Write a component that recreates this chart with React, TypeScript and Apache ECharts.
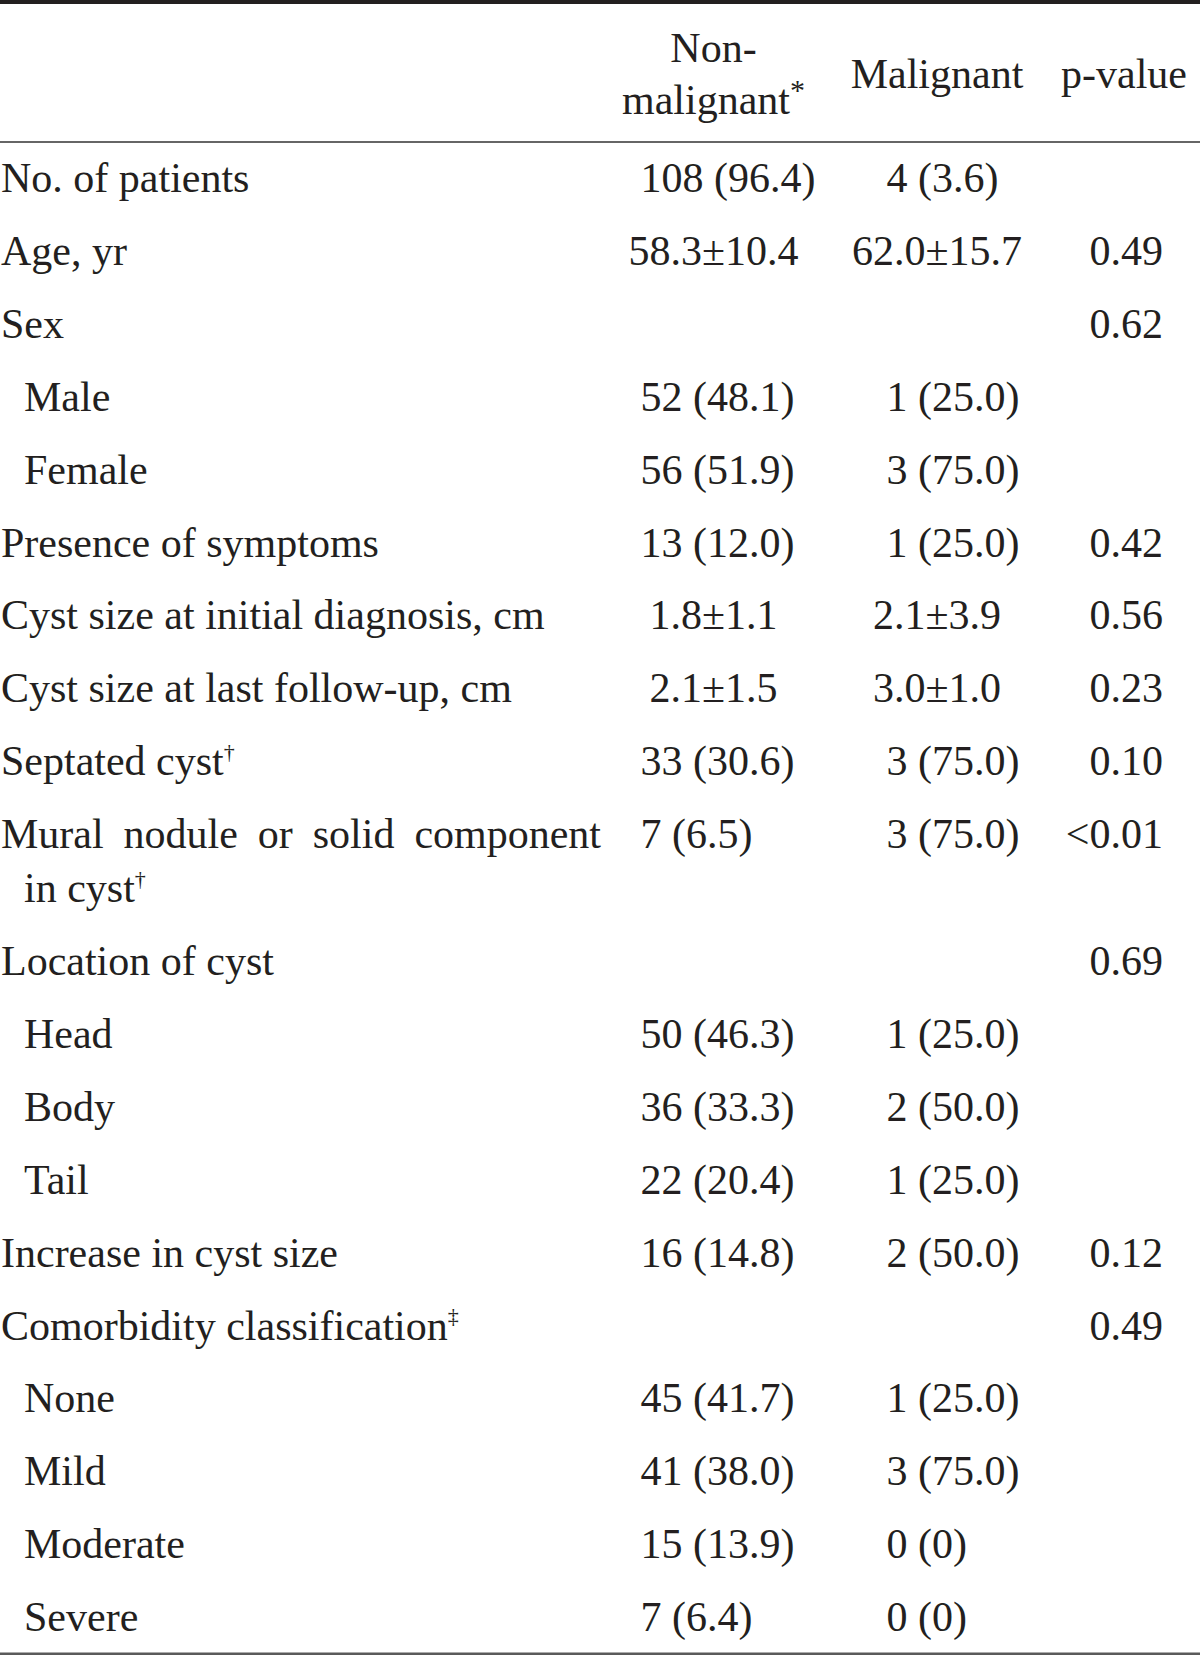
import React, { useEffect, useRef } from "react";
import * as echarts from "echarts";

// ---------- data ----------
const columnHeaders = ["Non-\nmalignant*", "Malignant", "p-value"];

const rowLabels = [
  "No. of patients",
  "Age, yr",
  "Sex",
  "Male",
  "Female",
  "Presence of symptoms",
  "Cyst size at initial diagnosis, cm",
  "Cyst size at last follow-up, cm",
  "Septated cyst†",
  "Mural nodule or solid component\nin cyst†",
  "Location of cyst",
  "Head",
  "Body",
  "Tail",
  "Increase in cyst size",
  "Comorbidity classification‡",
  "None",
  "Mild",
  "Moderate",
  "Severe",
];

const rowIndent = [0, 0, 0, 1, 1, 0, 0, 0, 0, 0, 0, 1, 1, 1, 0, 0, 1, 1, 1, 1];

const nonMalignant = [
  "108 (96.4)", "58.3±10.4", "", "52 (48.1)", "56 (51.9)", "13 (12.0)",
  "1.8±1.1", "2.1±1.5", "33 (30.6)", "7 (6.5)", "", "50 (46.3)", "36 (33.3)",
  "22 (20.4)", "16 (14.8)", "", "45 (41.7)", "41 (38.0)", "15 (13.9)", "7 (6.4)",
];

const malignant = [
  "4 (3.6)", "62.0±15.7", "", "1 (25.0)", "3 (75.0)", "1 (25.0)",
  "2.1±3.9", "3.0±1.0", "3 (75.0)", "3 (75.0)", "", "1 (25.0)", "2 (50.0)",
  "1 (25.0)", "2 (50.0)", "", "1 (25.0)", "3 (75.0)", "0 (0)", "0 (0)",
];

const pValues = [
  "", "0.49", "0.62", "", "", "0.42", "0.56", "0.23", "0.10", "<0.01",
  "0.69", "", "", "", "0.12", "0.49", "", "", "", "",
];

// ---------- layout / style ----------
const W = 1200;
const H = 1655;
const FONT = "'Liberation Serif', 'Times New Roman', 'DejaVu Serif', serif";
const FS = 42;
const SUP_FS = 22;
const COLOR = "#231f20";

const LABEL_X = 1;
const INDENT = 23;
const JUSTIFY_W = 600;
const FIRST_ROW_Y = 178;
const ROW_PITCH = 72.9;
const WRAP_LINE = 54;

const HEADER_Y = 74;
const HEADER_LH = 52;

// column anchors: left anchor for counts, centre for mean±sd
const NONMAL_LEFT = 640.6;
const NONMAL_CENTER = 713.5;
const MAL_LEFT = 886.5;
const MAL_CENTER = 937;
const P_RIGHT = 1163;
const P_HEADER_CENTER = 1124;

const richStyles = (lh: number, header: boolean) => ({
  t: { fontFamily: FONT, fontSize: FS, fill: COLOR, lineHeight: lh },
  s: header
    ? { fontFamily: FONT, fontSize: 30, fill: COLOR, lineHeight: 45, verticalAlign: "top" }
    : { fontFamily: FONT, fontSize: SUP_FS, fill: COLOR, lineHeight: 30, verticalAlign: "top" },
});

function toRich(line: string): string {
  const m = line.match(/^(.*?)([*†‡]*)$/);
  const main = m ? m[1] : line;
  const sup = m ? m[2] : "";
  return (main ? `{t|${main}}` : "") + (sup ? `{s|${sup}}` : "");
}

let ctx: CanvasRenderingContext2D | null = null;
function measure(text: string): number {
  if (!ctx) {
    ctx = document.createElement("canvas").getContext("2d");
  }
  if (!ctx) return text.length * FS * 0.45;
  ctx.font = `${FS}px ${FONT}`;
  return ctx.measureText(text).width;
}

function buildElements(): any[] {
  const els: any[] = [];

  // rules
  els.push({ type: "line", shape: { x1: 0, y1: 2, x2: W, y2: 2 }, style: { stroke: COLOR, lineWidth: 4 } });
  els.push({ type: "line", shape: { x1: 0, y1: 142, x2: W, y2: 142 }, style: { stroke: "#333333", lineWidth: 1.6 } });
  els.push({ type: "line", shape: { x1: 0, y1: 1653.7, x2: W, y2: 1653.7 }, style: { stroke: "#5a5a5a", lineWidth: 2.6 } });

  // headers
  const headerX = [NONMAL_CENTER, MAL_CENTER, P_HEADER_CENTER];
  columnHeaders.forEach((h, i) => {
    els.push({
      type: "text",
      x: headerX[i],
      y: HEADER_Y,
      style: {
        text: h.split("\n").map(toRich).join("\n"),
        rich: richStyles(HEADER_LH, true),
        fontFamily: FONT,
        fontSize: FS,
        fill: COLOR,
        align: "center",
        verticalAlign: "middle",
      },
    });
  });

  // rows
  let y = FIRST_ROW_Y;
  rowLabels.forEach((label, r) => {
    const lines = label.split("\n");
    const baseX = LABEL_X + rowIndent[r] * INDENT;
    lines.forEach((line, li) => {
      const ly = y + li * WRAP_LINE;
      const lx = li === 0 ? baseX : baseX + INDENT;
      const isJustified = lines.length > 1 && li < lines.length - 1;
      if (isJustified) {
        const words = line.split(" ");
        const widths = words.map(measure);
        const total = widths.reduce((a, b) => a + b, 0);
        const gap = words.length > 1 ? (JUSTIFY_W - total) / (words.length - 1) : 0;
        let cx = lx;
        words.forEach((w, wi) => {
          els.push({
            type: "text",
            x: cx,
            y: ly,
            style: { text: w, fontFamily: FONT, fontSize: FS, fill: COLOR, align: "left", verticalAlign: "middle" },
          });
          cx += widths[wi] + gap;
        });
      } else {
        els.push({
          type: "text",
          x: lx,
          y: ly,
          style: {
            text: toRich(line),
            rich: richStyles(FS, false),
            fontFamily: FONT,
            fontSize: FS,
            fill: COLOR,
            align: "left",
            verticalAlign: "middle",
          },
        });
      }
    });

    const addValue = (v: string, left: number, center: number) => {
      if (!v) return;
      const pm = v.indexOf("±") >= 0;
      els.push({
        type: "text",
        x: pm ? center : left,
        y,
        style: {
          text: v,
          fontFamily: FONT,
          fontSize: FS,
          fill: COLOR,
          align: pm ? "center" : "left",
          verticalAlign: "middle",
        },
      });
    };
    addValue(nonMalignant[r], NONMAL_LEFT, NONMAL_CENTER);
    addValue(malignant[r], MAL_LEFT, MAL_CENTER);
    if (pValues[r]) {
      els.push({
        type: "text",
        x: P_RIGHT,
        y,
        style: {
          text: pValues[r],
          fontFamily: FONT,
          fontSize: FS,
          fill: COLOR,
          align: "right",
          verticalAlign: "middle",
        },
      });
    }

    y += ROW_PITCH + (lines.length - 1) * WRAP_LINE;
  });

  return els;
}

export default function App() {
  const ref = useRef<HTMLDivElement>(null);

  useEffect(() => {
    if (!ref.current) return;
    const chart = echarts.init(ref.current, null, { renderer: "svg", width: W, height: H });
    chart.setOption({
      animation: false,
      backgroundColor: "#ffffff",
      graphic: { elements: buildElements() },
    });
    return () => {
      chart.dispose();
    };
  }, []);

  return (
    <div
      ref={ref}
      style={{ position: "absolute", left: 0, top: 0, width: W, height: H, background: "#ffffff" }}
    />
  );
}
